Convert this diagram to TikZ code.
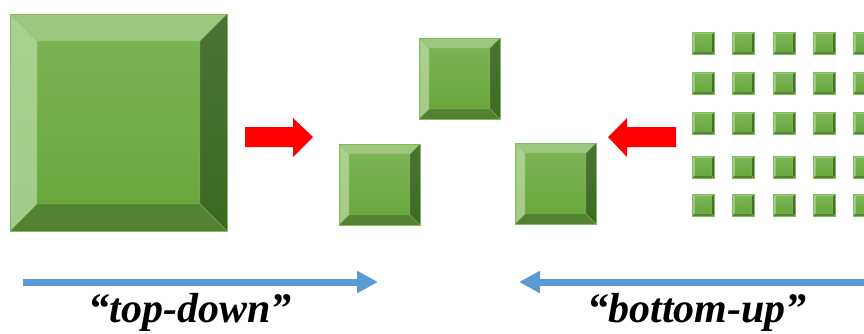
\documentclass[tikz,border=0pt]{standalone}
\usepackage{fontspec}
\setmainfont{Liberation Serif}
\usetikzlibrary{arrows.meta}

\definecolor{edgeColour}{HTML}{80BC5D}
\definecolor{bevelTop}{HTML}{9DC77F}
\definecolor{bevelLeftTop}{HTML}{AAD28F}
\definecolor{bevelLeftBottom}{HTML}{A3CA88}
\definecolor{bevelRightTop}{HTML}{4B7335}
\definecolor{bevelRightBottom}{HTML}{3D6A22}
\definecolor{bevelBottom}{HTML}{528232}
\definecolor{faceTop}{HTML}{7AB455}
\definecolor{faceBottom}{HTML}{67A83D}
\definecolor{arrowRed}{HTML}{FF0000}
\definecolor{arrowBlue}{HTML}{5B9BD5}

% bevelled square: top-left corner (#1,#2), side #3
\newcommand{\bevelsquare}[3]{%
  \begin{scope}[shift={(#1,#2)}, scale=#3]
    \def\b{0.125}
    \fill[bevelTop] (0,0) -- (1,0) -- (1-\b,\b) -- (\b,\b) -- cycle;
    \shade[top color=bevelLeftTop, bottom color=bevelLeftBottom]
      (0,0) -- (\b,\b) -- (\b,1-\b) -- (0,1) -- cycle;
    \shade[top color=bevelRightTop, bottom color=bevelRightBottom]
      (1,0) -- (1,1) -- (1-\b,1-\b) -- (1-\b,\b) -- cycle;
    \fill[bevelBottom] (0,1) -- (\b,1-\b) -- (1-\b,1-\b) -- (1,1) -- cycle;
    \shade[top color=faceTop, bottom color=faceBottom] (\b,\b) rectangle (1-\b,1-\b);
    \draw[edgeColour, line width=0.4pt, opacity=0.7]
      (0,0) -- (\b,\b) (1,0) -- (1-\b,\b) (0,1) -- (\b,1-\b) (1,1) -- (1-\b,1-\b)
      (\b,\b) rectangle (1-\b,1-\b);
    \draw[edgeColour, line width=0.8pt] (0,0) rectangle (1,1);
  \end{scope}}

\tikzset{
  label/.style={font=\fontsize{42}{48}\selectfont\bfseries\itshape, anchor=base, inner sep=0pt},
  flow/.style={arrowBlue, line width=7pt, -{Triangle[length=21pt,width=21pt]}}
}

\begin{document}
\begin{tikzpicture}[x=1pt, y=-1pt]
    % Page area
    \clip (0,0) rectangle (864,333);
    \useasboundingbox (0,0) rectangle (864,333);

    % One large block
    \bevelsquare{10}{14}{217}

    % Three medium blocks
    \bevelsquare{419}{38}{81}
    \bevelsquare{339}{144}{81}
    \bevelsquare{515}{143}{81}

    % Grid of small blocks
    \foreach \x in {692,732,773,813,853}
        \foreach \y in {32,72,112,156,194}
            \bevelsquare{\x}{\y}{22};

    % Red block arrows
    \fill[arrowRed] (245,127) -- (293,127) -- (293,118) -- (313,137)
        -- (293,157) -- (293,147) -- (245,147) -- cycle;
    \fill[arrowRed] (676,127) -- (627,127) -- (627,118) -- (608,137)
        -- (627,157) -- (627,147) -- (676,147) -- cycle;

    % Blue direction arrows
    \coordinate (tdStart) at (23,282);
    \coordinate (tdEnd) at (378,282);
    \coordinate (buStart) at (880,282);
    \coordinate (buEnd) at (519,282);
    \draw[flow] (tdStart) -- (tdEnd);
    \draw[flow] (buStart) -- (buEnd);

    % Labels
    \node[label] (topdown) at (190,322) {“top-down”};
    \node[label] (bottomup) at (697,322) {“bottom-up”};

\end{tikzpicture}
\end{document}
